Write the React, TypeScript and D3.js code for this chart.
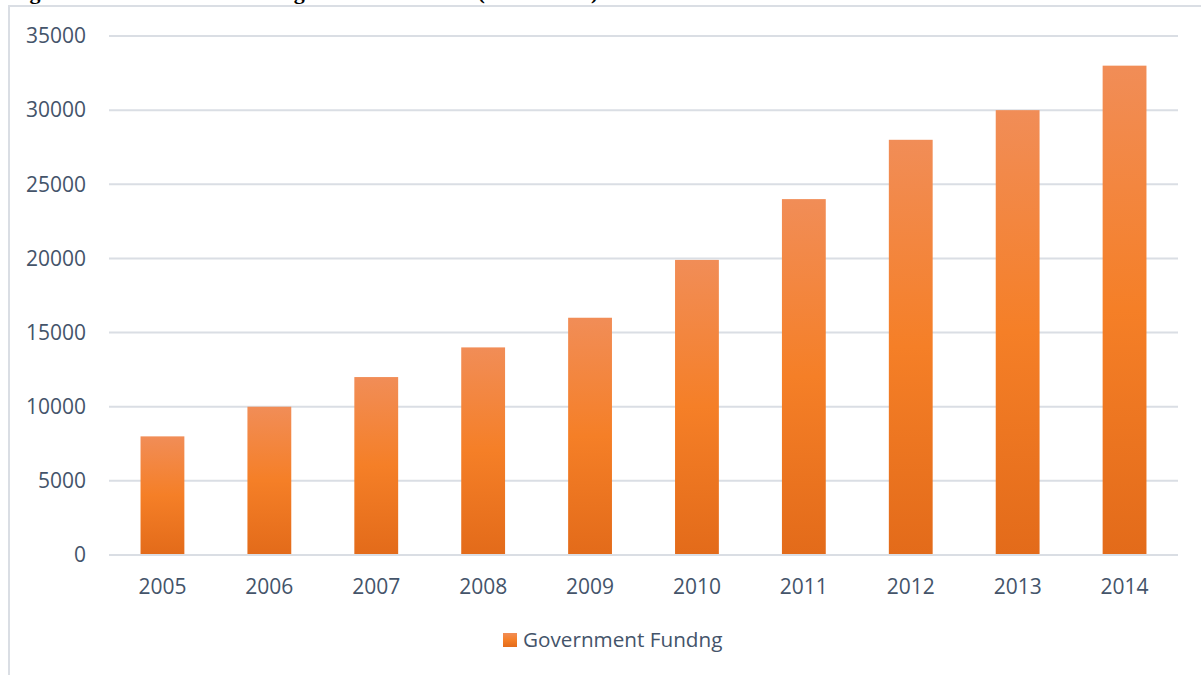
import React from "react";
import * as d3 from "d3";

const years = ["2005", "2006", "2007", "2008", "2009", "2010", "2011", "2012", "2013", "2014"];
const funding = [8000, 10000, 12000, 14000, 16000, 19900, 24000, 28000, 30000, 33000];
const yTicks = [0, 5000, 10000, 15000, 20000, 25000, 30000, 35000];
const seriesName = "Government Fundng";
const titleText = "Figure 2: Government Funding for Health Sector (2005 - 2014)";

const W = 1201;
const H = 675;
const plot = { left: 109, right: 1178, top: 36, bottom: 555 };
const textColor = "#44546a";
const gridColor = "#dadee4";
const font = "'Open Sans', 'Liberation Sans', sans-serif";

export default function App() {
  const x = d3.scaleBand<string>().domain(years).range([plot.left, plot.right]).paddingInner(0.59).paddingOuter(0.295);
  const y = d3.scaleLinear().domain([0, 35000]).range([plot.bottom, plot.top]);

  return (
    <div style={{ position: "fixed", left: 0, top: 0 }}>
      <svg width={W} height={H} viewBox={`0 0 ${W} ${H}`} style={{ display: "block", background: "#fff" }}>
        <defs>
          <linearGradient id="barGrad" x1="0" y1="0" x2="0" y2="1">
            <stop offset="0%" stopColor="#f18d57" />
            <stop offset="50%" stopColor="#f57f27" />
            <stop offset="100%" stopColor="#e36b1a" />
          </linearGradient>
        </defs>
        <text x={10} y={-1} fontFamily="'Times New Roman', 'Liberation Serif', serif" fontWeight="bold" fontSize={22} fill="#000">
          {titleText}
        </text>
        <rect x={9} y={6} width={W + 20} height={H + 20} fill="none" stroke={gridColor} strokeWidth={2} />
        {yTicks.map((t) => (
          <g key={t}>
            <line x1={plot.left} x2={plot.right} y1={y(t)} y2={y(t)} stroke={gridColor} strokeWidth={2} />
            <text x={86} y={y(t)} dy="0.35em" textAnchor="end" fontFamily={font} fontSize={21} fill={textColor}>
              {t}
            </text>
          </g>
        ))}
        {years.map((yr, i) => (
          <rect key={yr} x={x(yr)} y={y(funding[i])} width={x.bandwidth()} height={y(0) - y(funding[i]) - 1} fill="url(#barGrad)" />
        ))}
        {years.map((yr) => (
          <text key={yr} x={(x(yr) as number) + x.bandwidth() / 2} y={594} textAnchor="middle" fontFamily={font} fontSize={21} fill={textColor}>
            {yr}
          </text>
        ))}
        <rect x={503} y={633} width={14} height={14} fill="url(#barGrad)" />
        <text x={523} y={647} fontFamily={font} fontSize={20.7} fill={textColor}>
          {seriesName}
        </text>
      </svg>
    </div>
  );
}
